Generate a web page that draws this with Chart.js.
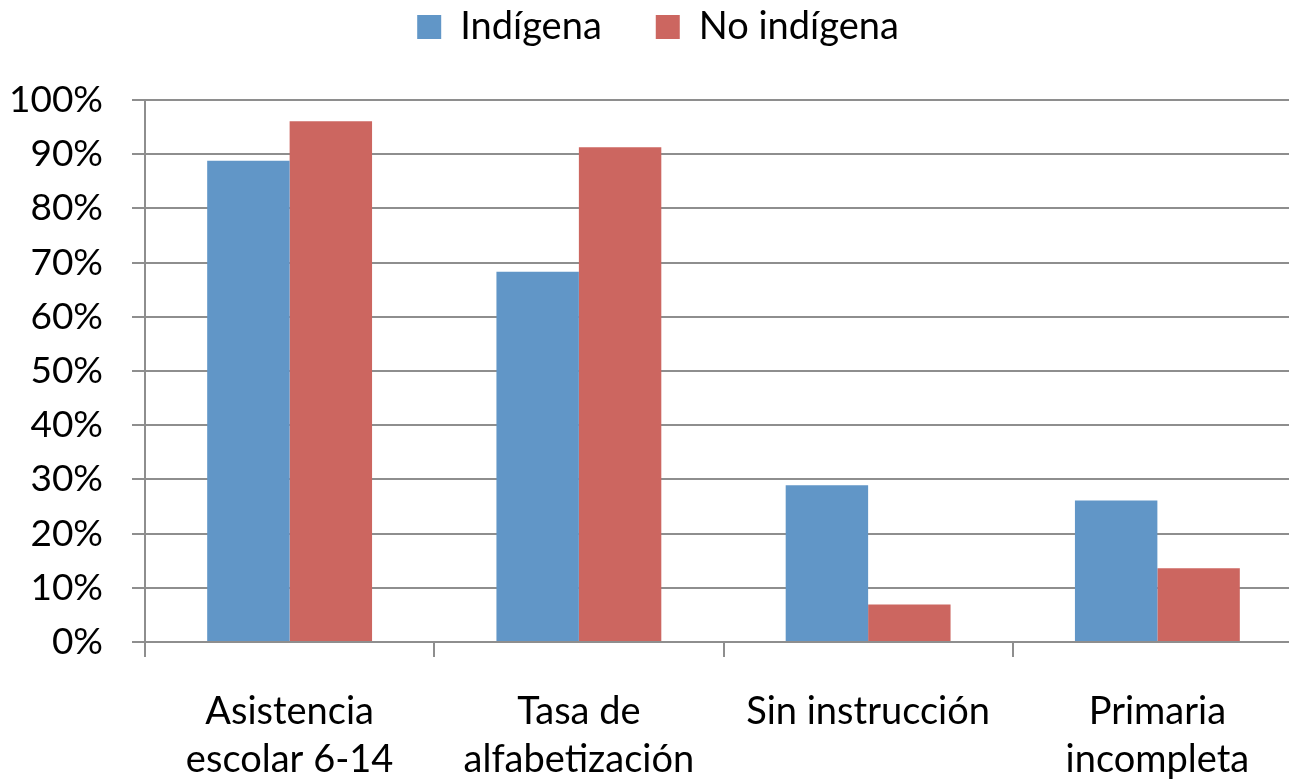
<!DOCTYPE html>
<html>
<head>
<meta charset="utf-8">
<script src="https://cdn.jsdelivr.net/npm/chart.js@4/dist/chart.umd.min.js"></script>
<style>
  html, body { margin: 0; padding: 0; background: #fff; overflow: hidden; }
  #wrap { width: 1302px; height: 784px; position: relative; }
</style>
</head>
<body>
<div id="wrap"><canvas id="chEdu"></canvas></div>
<script>
// categories and series
const categories = [
    ['Asistencia', 'escolar 6-14'],
    ['Tasa de', 'alfabetización'],
    ['Sin instrucción'],
    ['Primaria', 'incompleta']
];
const indigena = [88.8, 68.3, 28.9, 26.1];
const noIndigena = [96.1, 91.3, 6.9, 13.6];
const yTicks = [0, 10, 20, 30, 40, 50, 60, 70, 80, 90, 100];

const FONT = 'Lato, "Open Sans", sans-serif';
const gridGray = '#8e8e8e';

Chart.defaults.font.family = FONT;
Chart.defaults.color = '#000';

// legend: extra room under it, and a small nudge to the right
const legendTweak = {
    id: 'legendTweak',
    beforeInit(chart) {
        const origFit = chart.legend.fit;
        chart.legend.fit = function() {
            origFit.bind(chart.legend)();
            this.height += 44;
        };
    },
    afterLayout(chart) {
        chart.legend.left += 7;
        chart.legend.right += 7;
    }
};

const ctx = document.getElementById('chEdu');
new Chart(ctx.getContext('2d'), {
    type: 'bar',
    data: {
        labels: categories,
        datasets: [
            {
                label: 'Indígena',
                data: indigena,
                backgroundColor: '#6196c7',
                borderWidth: 0,
                barPercentage: 1,
                categoryPercentage: 0.57
            },
            {
                label: 'No indígena',
                data: noIndigena,
                backgroundColor: '#cc6660',
                borderWidth: 0,
                barPercentage: 1,
                categoryPercentage: 0.57
            }
        ]
    },
    options: {
        responsive: true,
        maintainAspectRatio: false,
        animation: false,
        layout: { padding: { top: -46, left: 0, right: 0, bottom: 0 } },
        scales: {
            x: {
                afterFit(scale) { scale.height = 142; },
                grid: {
                    drawOnChartArea: false,
                    drawTicks: true,
                    tickLength: 15,
                    color: gridGray,
                    lineWidth: 2
                },
                border: { color: gridGray, width: 2 },
                ticks: {
                    font: { size: 38, lineHeight: 1.263 },
                    padding: 31,
                    maxRotation: 0,
                    autoSkip: false
                }
            },
            y: {
                min: 0,
                max: 100,
                afterFit(scale) { scale.width = 145; },
                afterBuildTicks(scale) { scale.ticks = yTicks.map(v => ({ value: v })); },
                grid: { color: gridGray, lineWidth: 2, tickLength: 13 },
                border: { color: gridGray, width: 2 },
                ticks: {
                    font: { size: 37 },
                    padding: 29,
                    callback: v => v + '%'
                }
            }
        },
        plugins: {
            legend: {
                position: 'top',
                labels: {
                    font: { size: 38 },
                    boxWidth: 24,
                    boxHeight: 24,
                    padding: 54
                }
            },
            tooltip: { enabled: false }
        }
    },
    plugins: [legendTweak]
});
</script>
</body>
</html>
